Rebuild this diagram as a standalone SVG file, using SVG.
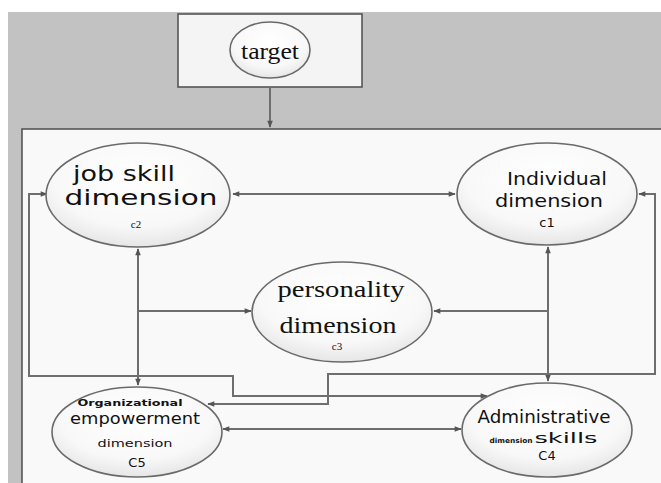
<svg xmlns="http://www.w3.org/2000/svg" width="661" height="483" viewBox="0 0 661 483">
<defs>
<radialGradient id="eg" cx="50%" cy="35%" r="65%">
<stop offset="0" stop-color="#ffffff"/>
<stop offset="0.7" stop-color="#f8f8f8"/>
<stop offset="1" stop-color="#e6e6e6"/>
</radialGradient>
<marker id="ah" viewBox="0 0 10 10" refX="9" refY="5" markerWidth="8" markerHeight="7" markerUnits="userSpaceOnUse" orient="auto-start-reverse">
<path d="M0,1 L10,5 L0,9 z" fill="#555"/>
</marker>
<style>
.bg{fill:#c2c2c2}
.ell{fill:url(#eg);stroke:#6a6a6a;stroke-width:1.6}
.con{fill:none;stroke:#6e6e6e;stroke-width:2}
.sans{font-family:"DejaVu Sans","Liberation Sans",sans-serif;fill:#111}
.serif{font-family:"Liberation Serif","DejaVu Serif",serif;fill:#111}
</style>
</defs>
<rect x="0" y="0" width="661" height="483" fill="#ffffff"/>
<rect class="bg" x="8" y="12" width="653" height="471"/>
<rect x="22" y="129" width="650" height="360" fill="#f9f9f9" stroke="#555" stroke-width="1.6"/>

<g id="target">
<rect x="178" y="14" width="184" height="73" fill="#f4f4f4" stroke="#555" stroke-width="1.6"/>
<ellipse class="ell" cx="270" cy="50" rx="40" ry="28"/>
<text class="serif" x="270" y="59" font-size="24" text-anchor="middle" textLength="58" lengthAdjust="spacingAndGlyphs">target</text>
</g>

<g id="connectors">
<path class="con" d="M270,87 V127" marker-end="url(#ah)"/>
<path class="con" d="M233,194 H455" marker-start="url(#ah)" marker-end="url(#ah)"/>
<path class="con" d="M138,249 V385" marker-start="url(#ah)" marker-end="url(#ah)"/>
<path class="con" d="M138,311 H251" marker-end="url(#ah)"/>
<path class="con" d="M548,247 V381" marker-start="url(#ah)" marker-end="url(#ah)"/>
<path class="con" d="M548,311 H434" marker-end="url(#ah)"/>
<path class="con" d="M47,194 H29 V376 H233 V396 H487" marker-start="url(#ah)" marker-end="url(#ah)"/>
<path class="con" d="M639,194 H655 V374 H328 V404 H208" marker-start="url(#ah)" marker-end="url(#ah)"/>
<path class="con" d="M223,429 H461" marker-start="url(#ah)" marker-end="url(#ah)"/>
</g>

<g id="c2">
<ellipse class="ell" cx="138" cy="195" rx="92" ry="52"/>
<text class="sans" x="124" y="181" font-size="22" text-anchor="middle" textLength="102" lengthAdjust="spacingAndGlyphs">job skill</text>
<text class="sans" x="141" y="205" font-size="22" text-anchor="middle" textLength="153" lengthAdjust="spacingAndGlyphs">dimension</text>
<text class="serif" x="136" y="228" font-size="11" text-anchor="middle">c2</text>
</g>

<g id="c1">
<ellipse class="ell" cx="547" cy="194" rx="90" ry="51"/>
<text class="sans" x="557" y="185" font-size="17" text-anchor="middle" textLength="100" lengthAdjust="spacingAndGlyphs">Individual</text>
<text class="sans" x="549" y="207" font-size="17" text-anchor="middle" textLength="108" lengthAdjust="spacingAndGlyphs">dimension</text>
<text class="sans" x="547" y="227" font-size="13" text-anchor="middle">c1</text>
</g>

<g id="c3">
<ellipse class="ell" cx="342" cy="312" rx="90" ry="50"/>
<text class="serif" x="341" y="297" font-size="24" text-anchor="middle" textLength="127" lengthAdjust="spacingAndGlyphs">personality</text>
<text class="serif" x="338" y="333" font-size="24" text-anchor="middle" textLength="117" lengthAdjust="spacingAndGlyphs">dimension</text>
<text class="serif" x="337" y="350" font-size="11" text-anchor="middle">c3</text>
</g>

<g id="c5">
<ellipse class="ell" cx="137" cy="432" rx="85" ry="45"/>
<text class="sans" x="130" y="406" font-size="8" font-weight="bold" text-anchor="middle" textLength="105" lengthAdjust="spacingAndGlyphs">Organizational</text>
<text class="sans" x="135" y="424" font-size="15" text-anchor="middle" textLength="130" lengthAdjust="spacingAndGlyphs">empowerment</text>
<text class="sans" x="135" y="447" font-size="11" text-anchor="middle" textLength="75" lengthAdjust="spacingAndGlyphs">dimension</text>
<text class="sans" x="137" y="467" font-size="13" text-anchor="middle">C5</text>
</g>

<g id="c4">
<ellipse class="ell" cx="547" cy="430" rx="85" ry="47"/>
<text class="sans" x="544" y="423" font-size="17" text-anchor="middle" textLength="133" lengthAdjust="spacingAndGlyphs">Administrative</text>
<text class="sans" x="511" y="443" font-size="7" font-weight="bold" text-anchor="middle" textLength="43" lengthAdjust="spacingAndGlyphs">dimension</text>
<text class="sans" x="566" y="443" font-size="14" text-anchor="middle" textLength="63" lengthAdjust="spacingAndGlyphs">skills</text>
<text class="sans" x="547" y="460" font-size="13" text-anchor="middle">C4</text>
</g>
</svg>
